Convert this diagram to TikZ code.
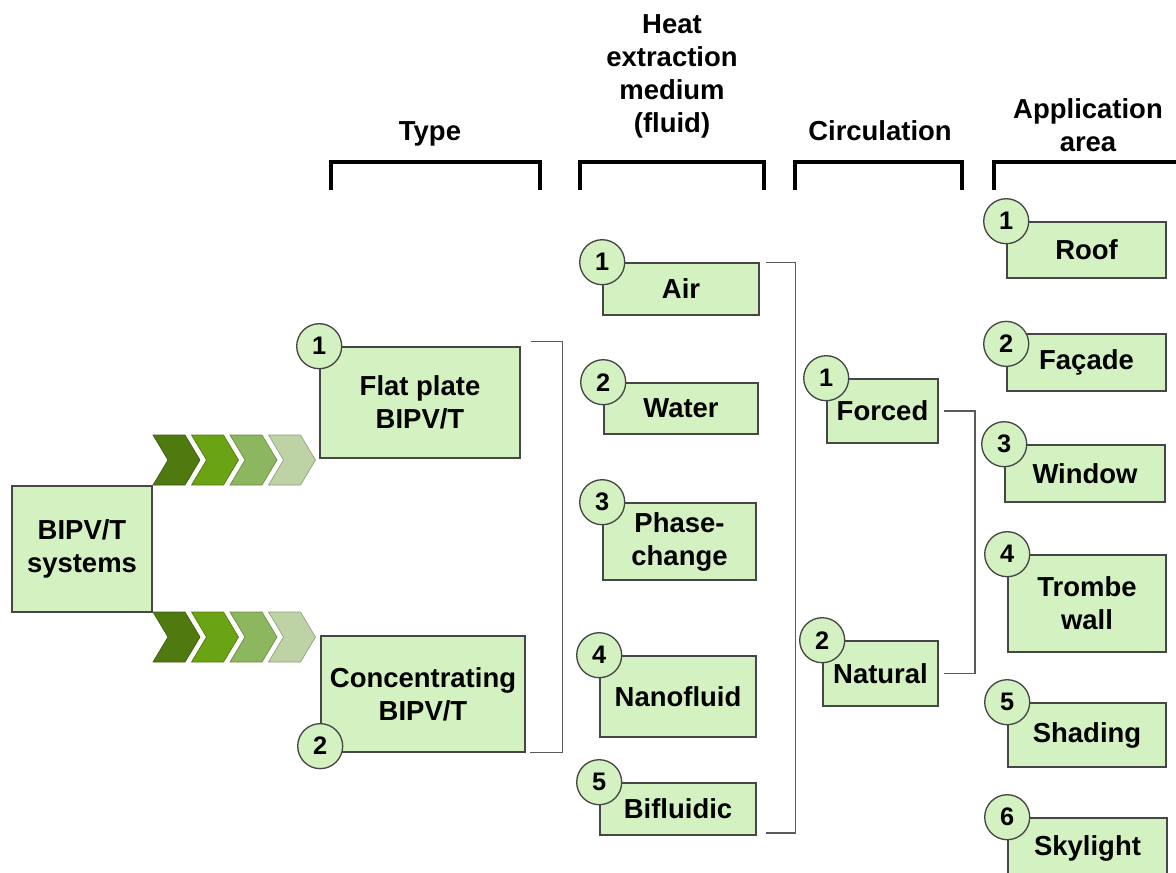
\documentclass[tikz,border=0pt]{standalone}
\usepackage{fontspec}
\setmainfont{Liberation Sans}
\definecolor{boxgreen}{RGB}{212,241,193}
\definecolor{boxline}{RGB}{70,70,70}
\definecolor{linegray}{RGB}{90,90,90}
\definecolor{chevA}{RGB}{78,122,16}
\definecolor{chevB}{RGB}{106,163,20}
\definecolor{chevC}{RGB}{141,183,94}
\definecolor{chevD}{RGB}{189,211,166}

\begin{document}
\begin{tikzpicture}[x=0.75pt,y=-0.75pt]
\begin{scope}
	\tikzstyle{every node}=[align=center, font=\fontsize{20.6}{24.75}\selectfont\bfseries]
	\tikzstyle{box}=[draw=boxline, fill=boxgreen, line width=1.2pt, inner sep=2pt]
	\tikzstyle{num}=[circle, draw=boxline, fill=boxgreen, line width=1pt, minimum size=33.75pt, inner sep=0pt, font=\fontsize{19}{19}\selectfont\bfseries]
	\tikzstyle{thinlink}=[draw=linegray, line width=1pt]
	\tikzstyle{hbar}=[line width=3pt]
	\useasboundingbox (0,0) rectangle (1176,872);

	% headers
	\node[anchor=base] (hType) at (430,140) {Type};
	\node (hHeat) at (672,76) {Heat\\extraction\\medium\\(fluid)};
	\node[anchor=base] (hCirc) at (880,140) {Circulation};
	\node (hApp) at (1088,125) {Application\\area};
	\draw[hbar] (331,190) |- (540,162) -- (540,190);
	\draw[hbar] (580,190) |- (764,162) -- (764,190);
	\draw[hbar] (795,190) |- (962,162) -- (962,190);
	\draw[hbar] (994,190) |- (1180,162);

	% chevrons
	\foreach \i/\c in {0/chevA,1/chevB,2/chevC,3/chevD} {
		\foreach \yt in {435,612} {
			\filldraw[fill=\c, draw=\c!75!black, line width=0.5pt] ({153+38.5*\i},\yt) -- ++(32,0) -- ++(15,25) -- ++(-15,25) -- ++(-32,0) -- ++(15,-25) -- cycle;
		}
	}

	% boxes
	\node[box, minimum width=105pt, minimum height=94.5pt] (sys) at (82,549) {BIPV/T\\systems};
	\node[box, minimum width=150pt, minimum height=83.25pt] (flat) at (420,402.5) {Flat plate\\BIPV/T};
	\node[box, minimum width=153pt, minimum height=87pt] (conc) at (423,694) {Concentrating\\BIPV/T};

	\node[box, minimum width=117pt, minimum height=39pt] (air) at (681,289) {Air};
	\node[box, minimum width=115.5pt, minimum height=38.25pt] (water) at (681,408.5) {Water};
	\node[box, minimum width=114.75pt, minimum height=57.75pt] (phase) at (679.5,541.5) {Phase-\\change};
	\node[box, minimum width=117pt, minimum height=60.75pt] (nano) at (678,696.5) {Nanofluid};
	\node[box, minimum width=117pt, minimum height=39pt] (bifl) at (678,809) {Bifluidic};

	\node[box, minimum width=83.25pt, minimum height=48pt] (forced) at (882.5,411) {Forced};
	\node[box, minimum width=86.25pt, minimum height=48.75pt] (natural) at (880.5,673.5) {Natural};

	\node[box, minimum width=119.25pt, minimum height=42pt] (roof) at (1086.5,250) {Roof};
	\node[box, minimum width=119.25pt, minimum height=42.75pt] (facade) at (1086.5,362.5) {Façade};
	\node[box, minimum width=120pt, minimum height=42.75pt] (window) at (1085,473.5) {Window};
	\node[box, minimum width=118.5pt, minimum height=72.75pt] (trombe) at (1087,603.5) {Trombe\\wall};
	\node[box, minimum width=118.5pt, minimum height=48pt] (shading) at (1087,735) {Shading};
	\node[box, minimum width=119.25pt, minimum height=45pt] (skylight) at (1087.5,848) {Skylight};

	% numbers
	\node[num] (nFlat) at (flat.north west) {1};
	\node[num] (nConc) at ([yshift=5pt]conc.south west) {2};
	\node[num] (nAir) at (air.north west) {1};
	\node[num] (nWater) at (water.north west) {2};
	\node[num] (nPhase) at (phase.north west) {3};
	\node[num] (nNano) at (nano.north west) {4};
	\node[num] (nBifl) at (bifl.north west) {5};
	\node[num] (nForced) at (forced.north west) {1};
	\node[num] (nNatural) at (natural.north west) {2};
	\node[num] (nRoof) at (roof.north west) {1};
	\node[num] (nFacade) at ([yshift=-8pt]facade.north west) {2};
	\node[num] (nWindow) at (window.north west) {3};
	\node[num] (nTrombe) at (trombe.north west) {4};
	\node[num] (nShading) at (shading.north west) {5};
	\node[num] (nSkylight) at (skylight.north west) {6};

	% brackets
	\draw[thinlink] ([xshift=7.5pt,yshift=3.5pt]flat.north east) -- ++(32,0) |- ([xshift=3.5pt]conc.south east);
	\draw[thinlink] ([xshift=4.5pt]air.north east) -- ++(30,0) |- ([xshift=7pt,yshift=2pt]bifl.south east);
	\draw[thinlink] ([xshift=4pt]forced.east) -- ++(31,0) |- ([xshift=4pt]natural.east);
\end{scope}
\end{tikzpicture}
\end{document}
